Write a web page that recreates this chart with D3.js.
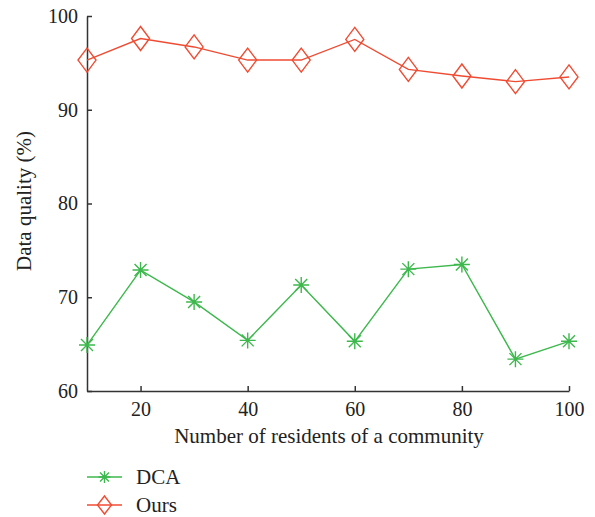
<!DOCTYPE html>
<html><head><meta charset="utf-8">
<script src="https://cdn.jsdelivr.net/npm/d3@7"></script>
<style>body{margin:0;background:#fff}svg{display:block}text{font-family:"Liberation Serif","Times New Roman",serif;fill:#222}</style>
</head><body>
<svg id="c" width="595" height="517"></svg>
<script>
const xValues = [10,20,30,40,50,60,70,80,90,100];
const dcaValues = [64.9,72.9,69.5,65.4,71.3,65.3,73.0,73.5,63.4,65.3];
const oursValues = [95.3,97.6,96.7,95.3,95.3,97.5,94.3,93.6,93.0,93.5];
const xTicks = [20,40,60,80,100];
const yTicks = [60,70,80,90,100];
const seriesNames = ["DCA","Ours"];

const svg = d3.select("#c");
const mL = 87, mR = 569, mT = 16, mB = 391;
const x = d3.scaleLinear().domain([10,100]).range([mL,mR]);
const y = d3.scaleLinear().domain([60,100]).range([mB,mT]);
const green = "#3cb84c", red = "#f04b32", axisCol = "#333";
const fs = 21, tfs = 20;

// axes
const gx = svg.append("g").attr("transform",`translate(0,${mB})`)
  .call(d3.axisBottom(x).tickValues(xTicks).tickSizeInner(-5).tickSizeOuter(0).tickPadding(11));
const gy = svg.append("g").attr("transform",`translate(${mL},0)`)
  .call(d3.axisLeft(y).tickValues(yTicks).tickSizeInner(-5).tickSizeOuter(0).tickPadding(9));
[gx,gy].forEach(g=>{
  g.selectAll("path,line").attr("stroke",axisCol).attr("stroke-width",1.5);
  g.selectAll("text").style("font-family",'"Liberation Serif",serif').style("font-size",tfs+"px").attr("fill","#222");
});

svg.append("text").attr("x",329).attr("y",443).attr("text-anchor","middle")
  .style("font-size",fs+"px").text("Number of residents of a community");
svg.append("text").attr("transform",`translate(31,201) rotate(-90)`).attr("text-anchor","middle")
  .style("font-size",fs+"px").text("Data quality (%)");

const line = d3.line().x(d=>x(d[0])).y(d=>y(d[1]));
const dcaData = xValues.map((v,i)=>[v,dcaValues[i]]);
const oursData = xValues.map((v,i)=>[v,oursValues[i]]);

function star(g, cx, cy, r, col){
  const a = r*0.75;
  const p = `M${cx-r},${cy}L${cx+r},${cy}M${cx},${cy-r}L${cx},${cy+r}M${cx-a},${cy-a}L${cx+a},${cy+a}M${cx-a},${cy+a}L${cx+a},${cy-a}`;
  g.append("path").attr("d",p).attr("stroke",col).attr("stroke-width",1.4).attr("fill","none");
}
function diamond(g, cx, cy, w, h, col){
  const p = `M${cx},${cy-h}L${cx+w},${cy}L${cx},${cy+h}L${cx-w},${cy}Z`;
  g.append("path").attr("d",p).attr("stroke",col).attr("stroke-width",1.4).attr("fill","none");
}

svg.append("path").datum(oursData).attr("d",line).attr("stroke",red).attr("stroke-width",1.4).attr("fill","none");
svg.append("path").datum(dcaData).attr("d",line).attr("stroke",green).attr("stroke-width",1.4).attr("fill","none");
const mg = svg.append("g");
oursData.forEach(d=>diamond(mg,x(d[0]),y(d[1]),9,12,red));
dcaData.forEach(d=>star(mg,x(d[0]),y(d[1]),8,green));

// legend
const lg = svg.append("g");
const legY = [477,505];
const cols = [green, red];
seriesNames.forEach((n,i)=>{
  lg.append("line").attr("x1",87).attr("x2",122).attr("y1",legY[i]).attr("y2",legY[i]).attr("stroke",cols[i]).attr("stroke-width",1.4);
  if(i===0) star(lg,104.5,legY[i],6,cols[i]); else diamond(lg,104.5,legY[i],7,9,cols[i]);
  lg.append("text").attr("x",136).attr("y",legY[i]+7).style("font-size",fs+"px").text(n);
});
</script>
</body></html>
